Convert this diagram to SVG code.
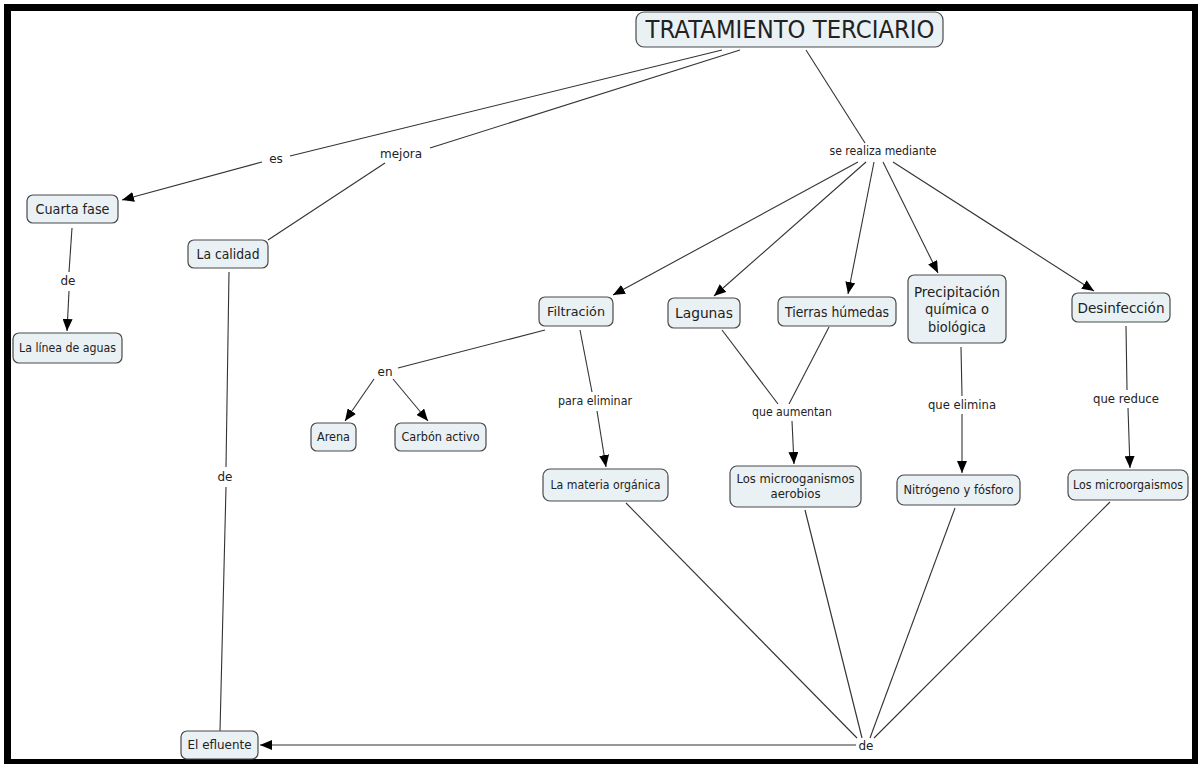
<svg xmlns="http://www.w3.org/2000/svg" width="1198" height="764" viewBox="0 0 1198 764">
<style>
.n rect{fill:#eaf1f4;stroke:#4a4a4a;stroke-width:1.2}
.n text{font-family:"DejaVu Sans",Verdana,sans-serif;fill:#222;text-anchor:middle}
.lb text{font-family:"DejaVu Sans",Verdana,sans-serif;fill:#222;text-anchor:middle;font-size:12px}
.c line{stroke:#333;stroke-width:1.1}
.c line.a{marker-end:url(#ah)}
</style>
<defs>
<marker id="ah" viewBox="0 0 12 10" refX="12" refY="5" markerWidth="12" markerHeight="10" markerUnits="userSpaceOnUse" orient="auto">
<path d="M0,0 L12,5 L0,10 Z" fill="#000"/>
</marker>
</defs>
<rect x="0" y="0" width="1198" height="764" fill="#fff"/>
<rect x="4" y="4" width="1194" height="760" fill="#000"/>
<rect x="11" y="11" width="1181" height="748" fill="#fff"/>

<g class="c" id="connectors">
<line x1="722" y1="50" x2="290" y2="156"/>
<line x1="262" y1="162" x2="122" y2="200" class="a"/>
<line x1="740" y1="50" x2="430" y2="148"/>
<line x1="385" y1="163" x2="268" y2="240"/>
<line x1="806" y1="50" x2="865" y2="143"/>
<line x1="858" y1="162" x2="613" y2="295" class="a"/>
<line x1="866" y1="162" x2="714" y2="296" class="a"/>
<line x1="874" y1="162" x2="848" y2="294" class="a"/>
<line x1="883" y1="162" x2="938" y2="273" class="a"/>
<line x1="893" y1="162" x2="1094" y2="291" class="a"/>
<line x1="72" y1="228" x2="69" y2="272"/>
<line x1="69" y1="291" x2="67" y2="331" class="a"/>
<line x1="229" y1="272" x2="226" y2="467"/>
<line x1="226" y1="487" x2="220" y2="731"/>
<line x1="545" y1="330" x2="398" y2="368"/>
<line x1="374" y1="379" x2="345" y2="421" class="a"/>
<line x1="393" y1="379" x2="428" y2="421" class="a"/>
<line x1="580" y1="330" x2="592" y2="392"/>
<line x1="597" y1="411" x2="606" y2="467" class="a"/>
<line x1="722" y1="330" x2="778" y2="404"/>
<line x1="829" y1="327" x2="789" y2="404"/>
<line x1="792" y1="421" x2="794" y2="464" class="a"/>
<line x1="961" y1="347" x2="962" y2="396"/>
<line x1="962" y1="414" x2="962" y2="473" class="a"/>
<line x1="1126" y1="326" x2="1127" y2="390"/>
<line x1="1128" y1="408" x2="1130" y2="468" class="a"/>
<line x1="626" y1="503" x2="857" y2="738"/>
<line x1="805" y1="510" x2="862" y2="738"/>
<line x1="955" y1="508" x2="870" y2="738"/>
<line x1="1110" y1="502" x2="874" y2="738"/>
<line x1="856" y1="745" x2="260" y2="745" class="a"/>
</g>

<g class="lb" id="labels">
<text x="276" y="163">es</text>
<text x="401" y="158">mejora</text>
<text x="883" y="155" textLength="107" lengthAdjust="spacingAndGlyphs">se realiza mediante</text>
<text x="68" y="285">de</text>
<text x="225" y="481">de</text>
<text x="385" y="376">en</text>
<text x="595" y="405" textLength="74" lengthAdjust="spacingAndGlyphs">para eliminar</text>
<text x="792" y="416" textLength="80" lengthAdjust="spacingAndGlyphs">que aumentan</text>
<text x="962" y="409" textLength="68" lengthAdjust="spacingAndGlyphs">que elimina</text>
<text x="1126" y="403" textLength="66" lengthAdjust="spacingAndGlyphs">que reduce</text>
<text x="866" y="750">de</text>
</g>

<g class="n" id="n-tratamiento"><rect x="636" y="12" width="307" height="35" rx="8"/><text x="790" y="38" font-size="24" textLength="289" lengthAdjust="spacingAndGlyphs">TRATAMIENTO TERCIARIO</text></g>
<g class="n" id="n-cuarta"><rect x="27" y="195" width="91" height="28" rx="6"/><text x="72.5" y="214" font-size="14" textLength="74" lengthAdjust="spacingAndGlyphs">Cuarta fase</text></g>
<g class="n" id="n-calidad"><rect x="188" y="240" width="80" height="28" rx="6"/><text x="228" y="259" font-size="14" textLength="63" lengthAdjust="spacingAndGlyphs">La calidad</text></g>
<g class="n" id="n-linea"><rect x="13" y="333" width="109" height="30" rx="6"/><text x="67.5" y="352" font-size="12" textLength="97" lengthAdjust="spacingAndGlyphs">La línea de aguas</text></g>
<g class="n" id="n-filtracion"><rect x="539" y="297" width="74" height="29" rx="6"/><text x="576" y="316" font-size="13" textLength="58" lengthAdjust="spacingAndGlyphs">Filtración</text></g>
<g class="n" id="n-lagunas"><rect x="668" y="298" width="72" height="30" rx="6"/><text x="704" y="318" font-size="14" textLength="58" lengthAdjust="spacingAndGlyphs">Lagunas</text></g>
<g class="n" id="n-tierras"><rect x="778" y="297" width="118" height="29" rx="6"/><text x="837" y="316.5" font-size="14" textLength="104" lengthAdjust="spacingAndGlyphs">Tierras húmedas</text></g>
<g class="n" id="n-precipitacion"><rect x="908" y="275" width="98" height="68" rx="6"/><text x="957" y="297" font-size="14" textLength="86" lengthAdjust="spacingAndGlyphs">Precipitación</text><text x="957" y="314" font-size="14" textLength="64" lengthAdjust="spacingAndGlyphs">química o</text><text x="957" y="332" font-size="14" textLength="58" lengthAdjust="spacingAndGlyphs">biológica</text></g>
<g class="n" id="n-desinfeccion"><rect x="1072" y="293" width="98" height="29" rx="6"/><text x="1121" y="312.5" font-size="14" textLength="87" lengthAdjust="spacingAndGlyphs">Desinfección</text></g>
<g class="n" id="n-arena"><rect x="311" y="423" width="45" height="28" rx="6"/><text x="333.5" y="441" font-size="12" textLength="33" lengthAdjust="spacingAndGlyphs">Arena</text></g>
<g class="n" id="n-carbon"><rect x="395" y="423" width="91" height="28" rx="6"/><text x="440.5" y="441" font-size="12" textLength="78" lengthAdjust="spacingAndGlyphs">Carbón activo</text></g>
<g class="n" id="n-materia"><rect x="543" y="469" width="125" height="32" rx="7"/><text x="605.5" y="489" font-size="12" textLength="110" lengthAdjust="spacingAndGlyphs">La materia orgánica</text></g>
<g class="n" id="n-aerobios"><rect x="730" y="466" width="131" height="41" rx="7"/><text x="795.5" y="483" font-size="12" textLength="118" lengthAdjust="spacingAndGlyphs">Los microoganismos</text><text x="795.5" y="498" font-size="12" textLength="50" lengthAdjust="spacingAndGlyphs">aerobios</text></g>
<g class="n" id="n-nitrogeno"><rect x="897" y="475" width="123" height="30" rx="7"/><text x="958.5" y="494" font-size="12" textLength="110" lengthAdjust="spacingAndGlyphs">Nitrógeno y fósforo</text></g>
<g class="n" id="n-microorg"><rect x="1068" y="470" width="120" height="30" rx="7"/><text x="1128" y="489" font-size="12" textLength="110" lengthAdjust="spacingAndGlyphs">Los microorgaismos</text></g>
<g class="n" id="n-efluente"><rect x="181" y="731" width="77" height="28" rx="6"/><text x="219.5" y="749" font-size="12" textLength="64" lengthAdjust="spacingAndGlyphs">El efluente</text></g>
</svg>
